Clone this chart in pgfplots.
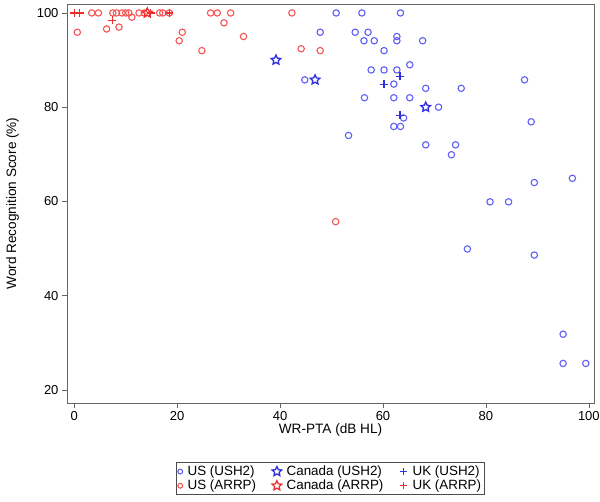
\documentclass[border=0pt]{standalone}
\usepackage{pgfplots}
\pgfplotsset{compat=1.18}
\usepackage{fontspec}
\setmainfont{Liberation Sans}
\definecolor{bluL}{RGB}{95,95,245}
\definecolor{bluD}{RGB}{45,45,225}
\definecolor{redL}{RGB}{245,85,85}
\definecolor{redD}{RGB}{240,45,45}
\pgfdeclareplotmark{hstar}{%
  \pgfpathmoveto{\pgfpointpolar{90}{\pgfplotmarksize}}%
  \pgfpathlineto{\pgfpointpolar{126}{0.48\pgfplotmarksize}}%
  \pgfpathlineto{\pgfpointpolar{162}{\pgfplotmarksize}}%
  \pgfpathlineto{\pgfpointpolar{198}{0.48\pgfplotmarksize}}%
  \pgfpathlineto{\pgfpointpolar{234}{\pgfplotmarksize}}%
  \pgfpathlineto{\pgfpointpolar{270}{0.48\pgfplotmarksize}}%
  \pgfpathlineto{\pgfpointpolar{306}{\pgfplotmarksize}}%
  \pgfpathlineto{\pgfpointpolar{342}{0.48\pgfplotmarksize}}%
  \pgfpathlineto{\pgfpointpolar{18}{\pgfplotmarksize}}%
  \pgfpathlineto{\pgfpointpolar{54}{0.48\pgfplotmarksize}}%
  \pgfpathclose
  \pgfusepathqstroke
}
\begin{document}
\begin{tikzpicture}
\useasboundingbox (-67pt,-98pt) rectangle (533pt,403pt);
\begin{axis}[
  scale only axis, width=527pt, height=399pt,
  at={(0,0)}, anchor=south west,
  xmin=-1.4, xmax=101, ymin=17.2, ymax=101.9,
  xtick={0,20,...,100}, ytick={20,40,...,100},
  tick align=outside, tick pos=left, major tick length=5pt,
  axis line style={black!60}, tick style={black!60},
  font=\fontsize{13}{15}\selectfont,
  /pgf/number format/assume math mode=true,
  xlabel={WR-PTA (dB HL)}, ylabel={Word Recognition Score (\%)},
  label style={font=\fontsize{13.6}{16}\selectfont},
  xlabel shift=-4pt,
  ylabel shift=11pt,
  legend columns=3,
  legend cell align=left,
  legend style={at={(0.5,-0.148)}, anchor=north, draw=black!70, line width=0.8pt,
    font=\fontsize{13.4}{16}\selectfont, inner sep=1.5pt, row sep=-1pt,
    /tikz/every odd column/.append style={column sep=3pt},
    /tikz/every even column/.append style={column sep=14pt}},
]
\addplot[only marks, mark=o, mark size=3.2pt, bluL, line width=1.1pt,
  legend image post style={mark size=2.4pt}] coordinates {
(50.9,100)(55.9,100)(63.4,100)
(47.8,95.9)(54.6,95.9)(57.1,95.9)(56.3,94.1)(58.3,94.1)(62.7,95)(62.7,94.1)(67.7,94.1)
(60.2,92)(65.2,89)(57.7,87.9)(60.2,87.9)(62.7,87.9)(62.1,84.9)(68.3,84)(44.8,85.8)
(56.4,82)(62.1,82)(65.2,82)(70.8,80)(64,77.7)(62.1,75.9)(63.4,75.9)
(87.5,85.8)(75.2,84)(88.8,76.9)(53.3,74)(68.3,72)(74.1,72)(73.3,69.9)
(80.8,59.9)(84.4,59.9)(89.4,64)(96.8,64.9)(76.4,49.9)(89.4,48.6)(95,31.8)(95,25.6)(99.4,25.6)
};
\addlegendentry{US (USH2)}
\addplot[only marks, mark=hstar, mark size=5pt, bluD, line width=1.3pt,
  legend image post style={mark size=5pt}] coordinates {
(39.2,90)(46.8,85.8)(68.3,80)
};
\addlegendentry{Canada (USH2)}
\addplot[only marks, mark=+, mark size=4pt, bluD, line width=1.1pt,
  legend image code/.code={\draw[bluD, line width=1.2pt] (0.3cm-3.5pt,0pt)--(0.3cm+3.5pt,0pt) (0.3cm,-3.5pt)--(0.3cm,3.5pt);}] coordinates {
(63.3,86.6)(60.2,84.9)(63.3,78.3)
};
\addlegendentry{UK (USH2)}
\addplot[only marks, mark=o, mark size=3.2pt, redL, line width=1.1pt,
  legend image post style={mark size=2.4pt}] coordinates {
(3.4,100)(4.7,100)(0.6,95.9)(6.3,96.6)(8.7,97)(7.5,100)(8.2,100)(9.3,100)(10,100)(10.6,100)
(11.2,99.1)(12.6,100)(13.6,100)(16.6,100)(17.2,100)(18.5,100)(26.5,100)(27.8,100)(30.4,100)
(29.1,97.9)(21,95.9)(20.4,94.1)(24.8,92)(32.9,95)(42.3,100)(44.1,92.4)(47.8,92)(50.8,55.7)
};
\addlegendentry{US (ARRP)}
\addplot[only marks, mark=hstar, mark size=5pt, redD, line width=1.3pt,
  legend image post style={mark size=5pt}] coordinates {
(14.2,100)
};
\addlegendentry{Canada (ARRP)}
\addplot[only marks, mark=+, mark size=4pt, redD, line width=1.1pt,
  legend image code/.code={\draw[redD, line width=1.2pt] (0.3cm-3.5pt,0pt)--(0.3cm+3.5pt,0pt) (0.3cm,-3.5pt)--(0.3cm,3.5pt);}] coordinates {
(0,100)(1.1,100)(7.4,98.4)(14.9,100)(18.5,100)
};
\addlegendentry{UK (ARRP)}
\end{axis}
\end{tikzpicture}
\end{document}
